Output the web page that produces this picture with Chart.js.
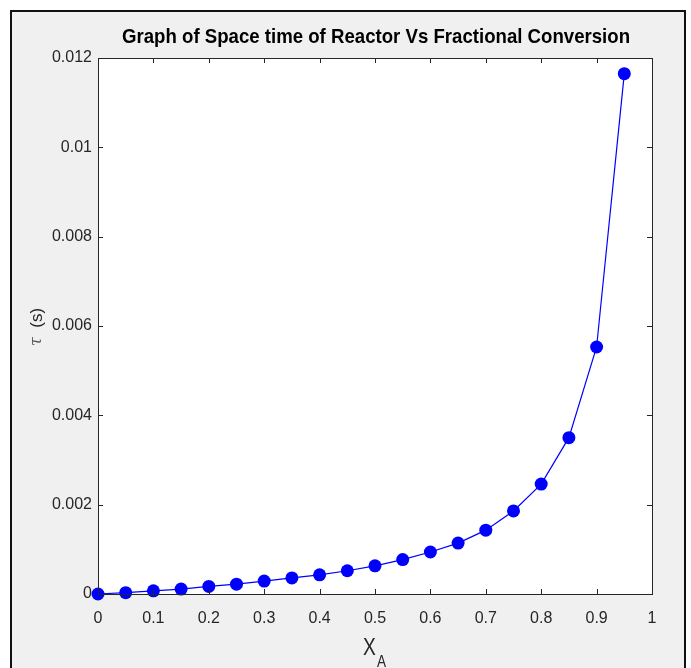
<!DOCTYPE html>
<html>
<head>
<meta charset="utf-8">
<script src="https://cdn.jsdelivr.net/npm/chart.js@4.4.1/dist/chart.umd.min.js"></script>
<style>
    html, body { margin: 0; padding: 0; background: #fff; }
</style>
</head>
<body>
<canvas id="myChart" width="691" height="668"></canvas>
<script>
// fractional conversion X_A and space time tau (s)
const conversion = [0, 0.05, 0.1, 0.15, 0.2, 0.25, 0.3, 0.35, 0.4, 0.45, 0.5,
    0.55, 0.6, 0.65, 0.7, 0.75, 0.8, 0.85, 0.9, 0.95];
const spaceTime = [0, 0.00003, 0.00007, 0.00011, 0.00017, 0.00022, 0.00029, 0.00036,
    0.00043, 0.00052, 0.00063, 0.00077, 0.00094, 0.00114, 0.00143, 0.00186,
    0.00246, 0.0035, 0.00553, 0.01165];
const xTicks = [0, 0.1, 0.2, 0.3, 0.4, 0.5, 0.6, 0.7, 0.8, 0.9, 1];
const yTicks = [0, 0.002, 0.004, 0.006, 0.008, 0.01, 0.012];

const FONT = "'Liberation Sans', Arial, sans-serif";
const AXIS_COLOR = "#262626";

const matlabFrame = {
    id: "matlabFrame",
    beforeDraw(chart) {
        const c = chart.ctx;
        const a = chart.chartArea;
        c.save();
        c.fillStyle = "#fff";
        c.fillRect(0, 0, chart.width, chart.height);
        c.fillStyle = "#f0f0f0";
        c.fillRect(11, 11, 674, 670);
        c.strokeStyle = "#111";
        c.lineWidth = 2;
        c.strokeRect(11, 11, 674, 670);
        c.fillStyle = "#fff";
        c.fillRect(a.left, a.top, a.right - a.left, a.bottom - a.top);
        c.restore();
    },
    afterDatasetsDraw(chart) {
        const c = chart.ctx;
        const a = chart.chartArea;
        const xs = chart.scales.x;
        const ys = chart.scales.y;
        c.save();
        c.strokeStyle = AXIS_COLOR;
        c.lineWidth = 1;
        c.beginPath();
        xs.ticks.forEach(function (t) {
            const px = Math.round(xs.getPixelForValue(t.value)) + 0.5;
            c.moveTo(px, a.bottom); c.lineTo(px, a.bottom - 5);
            c.moveTo(px, a.top); c.lineTo(px, a.top + 5);
        });
        ys.ticks.forEach(function (t) {
            const py = Math.round(ys.getPixelForValue(t.value)) + 0.5;
            c.moveTo(a.left, py); c.lineTo(a.left + 5, py);
            c.moveTo(a.right, py); c.lineTo(a.right - 5, py);
        });
        c.stroke();
        c.strokeRect(a.left + 0.5, a.top + 0.5, a.right - a.left, a.bottom - a.top);

        // title
        c.fillStyle = "#000";
        c.font = "bold 21px " + FONT;
        c.textAlign = "center";
        c.textBaseline = "alphabetic";
        const title = "Graph of Space time of Reactor Vs Fractional Conversion";
        const w = c.measureText(title).width;
        c.save();
        c.translate(376, 43);
        c.scale(508 / w, 1);
        c.fillText(title, 0, 0);
        c.restore();

        // x label
        c.fillStyle = AXIS_COLOR;
        c.textAlign = "left";
        c.save();
        c.translate(363, 655);
        c.scale(0.8, 1);
        c.font = "24px " + FONT;
        c.fillText("X", 0, 0);
        c.restore();
        c.save();
        c.translate(377, 667);
        c.scale(0.85, 1);
        c.font = "16px " + FONT;
        c.fillText("A", 0, 0);
        c.restore();

        // y label
        c.save();
        c.translate(37, 327);
        c.rotate(-Math.PI / 2);
        c.textAlign = "left";
        c.textBaseline = "middle";
        c.font = "italic 16px 'DejaVu Serif', serif";
        const tw = c.measureText("\u03c4").width;
        c.font = "17px " + FONT;
        const sw = c.measureText("  (s)").width;
        const start = -(tw + sw) / 2;
        c.fillStyle = "#555";
        c.font = "italic 16px 'DejaVu Serif', serif";
        c.fillText("\u03c4", start, 0);
        c.fillStyle = AXIS_COLOR;
        c.font = "17px " + FONT;
        c.fillText("  (s)", start + tw, 0);
        c.restore();
        c.restore();
    },
};

const ctx = document.getElementById("myChart");

new Chart(ctx, {
    type: "scatter",
    data: {
        datasets: [
            {
                label: "tau",
                data: conversion.map(function (x, i) {
                    return { x: x, y: spaceTime[i] };
                }),
                showLine: true,
                borderColor: "#0000ff",
                borderWidth: 1.2,
                backgroundColor: "#0000ff",
                pointBackgroundColor: "#0000ff",
                pointBorderWidth: 0,
                pointRadius: 6.5,
                clip: false,
            },
        ],
    },
    options: {
        responsive: false,
        animation: false,
        devicePixelRatio: 1,
        layout: { padding: { top: 58, right: 39, left: 0, bottom: 0 } },
        plugins: {
            legend: { display: false },
            title: { display: false },
            tooltip: { enabled: false },
        },
        scales: {
            x: {
                type: "linear",
                min: 0,
                max: 1,
                afterBuildTicks: function (s) {
                    s.ticks = xTicks.map(function (v) { return { value: v }; });
                },
                afterFit: function (s) { s.height = 74; },
                grid: { display: false, drawTicks: false },
                border: { display: false },
                ticks: {
                    padding: 15,
                    color: AXIS_COLOR,
                    font: { size: 16, family: FONT },
                    maxRotation: 0,
                    autoSkip: false,
                    callback: function (v) { return String(+v.toFixed(1)); },
                },
            },
            y: {
                type: "linear",
                min: 0,
                max: 0.012,
                afterBuildTicks: function (s) {
                    s.ticks = yTicks.map(function (v) { return { value: v }; });
                },
                afterFit: function (s) { s.width = 98; },
                grid: { display: false, drawTicks: false },
                border: { display: false },
                ticks: {
                    padding: 6,
                    color: AXIS_COLOR,
                    font: { size: 16, family: FONT },
                    autoSkip: false,
                    callback: function (v) { return String(+v.toFixed(3)); },
                },
            },
        },
    },
    plugins: [matlabFrame],
});
</script>
</body>
</html>
